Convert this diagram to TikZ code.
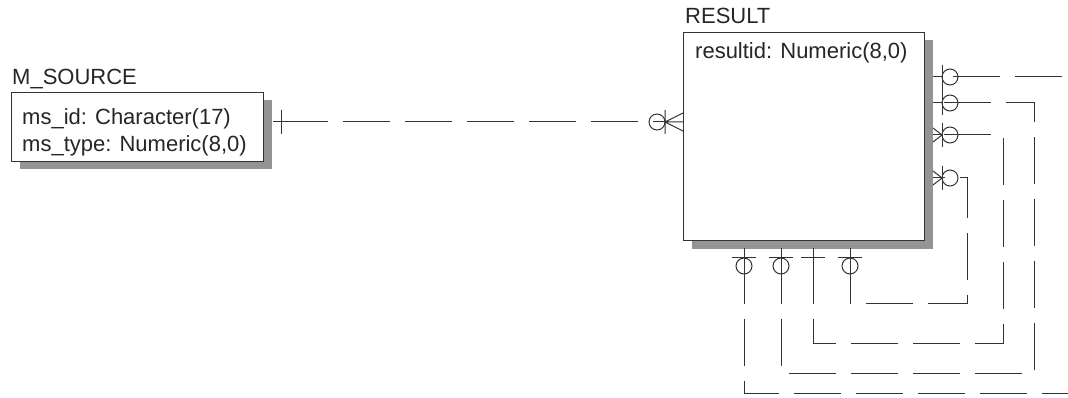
\documentclass[tikz,border=0pt]{standalone}
\usepackage{fontspec}
\setmainfont{Liberation Sans}
\usetikzlibrary{shadows}

\tikzset{
  entity/.style={draw=black!80,fill=white,line width=1pt,
    general shadow={fill=black!42,shadow xshift=8pt,shadow yshift=-8pt}},
  title/.style={anchor=base west,inner sep=0,text=black!85,font=\fontsize{22}{27}\selectfont},
  attr/.style={anchor=base west,inner sep=0,text=black!85,font=\fontsize{22}{27}\selectfont},
  link/.style={draw=black!80,line width=1pt},
  rel/.style={link,dash pattern=on 47pt off 15pt},
}

\begin{document}
\begin{tikzpicture}[x=1pt,y=-1pt]
\useasboundingbox (0,0) rectangle (1068,398);
\clip (0,0) rectangle (1068,398);

% entities
\node[entity,minimum width=252,minimum height=69,anchor=north west] (msource) at (11,92) {};
\node[title] (msourcetitle) at (12,85) {M\_SOURCE};
\node[attr] (msid) at (22,125) {ms\_id: Character(17)};
\node[attr] (mstype) at (22,152) {ms\_type: Numeric(8,0)};

\node[entity,minimum width=241,minimum height=208,anchor=north west] (result) at (683,32) {};
\node[title] (resulttitle) at (685,24) {RESULT};
\node[attr] (resultid) at (695,59) {resultid: Numeric(8,0)};

% M_SOURCE -> RESULT
\coordinate (ms1) at (273,122);
\coordinate (ms1bar) at (281,122);
\coordinate (rs1bar) at (665,122);
\coordinate (rs1) at (683,122);
\draw[rel] (ms1bar) -- (rs1bar);
\draw[link] (ms1) -- (ms1bar) (281,110) -- (281,134);
\draw[link] (rs1bar) -- (rs1) (683,113) -- (rs1bar) -- (683,131) (665,110) -- (665,134);
\draw[link] (657,122) circle (8);

% RESULT right side
\coordinate (rr1) at (942,77);
\coordinate (rr2) at (942,103);
\coordinate (rr3) at (942,135);
\coordinate (rr4) at (942,178);
\draw[link] (933,77) -- (rr1) (933,103) -- (rr2) (933,135) -- (rr3) (933,178) -- (rr4);
\draw[link] (942,65) -- (942,115) (942,123) -- (942,147) (942,166) -- (942,190);
\draw[link] (933,128) -- (rr3) -- (933,142) (933,171) -- (rr4) -- (933,185);
\draw[link] (950,77) circle (8) (950,103) circle (8) (950,135) circle (8) (950,178) circle (8);

% RESULT bottom side
\coordinate (rb1) at (744,257);
\coordinate (rb2) at (781,257);
\coordinate (rb3) at (813,257);
\coordinate (rb4) at (850,257);
\draw[link] (744,248) -- (rb1) (781,248) -- (rb2) (813,248) -- (rb3) (850,248) -- (rb4);
\draw[link] (732,257) -- (756,257) (769,257) -- (793,257) (801,257) -- (825,257) (838,257) -- (862,257);
\draw[link] (744,266) circle (8) (781,266) circle (8) (850,266) circle (8);

% recursive links
\draw[rel] (rb1) |- (1080,393) |- (rr1);
\draw[rel] (rb2) |- (1034,373) |- (rr2);
\draw[rel] (rb3) |- (1003,343) |- (rr3);
\draw[rel] (rb4) |- (967,303) |- (rr4);
\end{tikzpicture}
\end{document}
